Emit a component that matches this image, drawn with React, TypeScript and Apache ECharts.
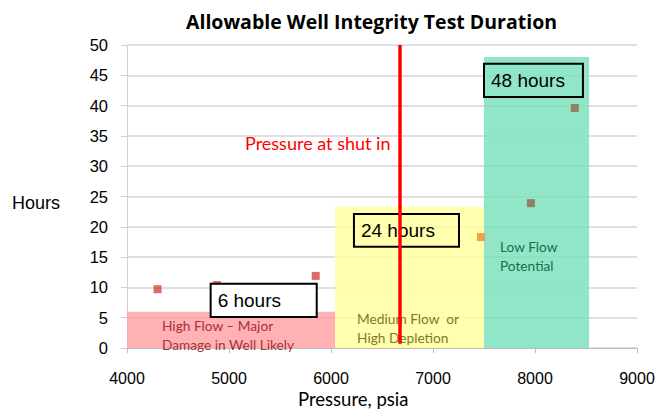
import React, { useEffect, useRef } from "react";
import * as echarts from "echarts";

const xTicks = [4000, 5000, 6000, 7000, 8000, 9000];
const yTicks = [0, 50, 5];

const highFlowPoints = [
  [4300, 9.7],
  [4880, 10.4],
  [5850, 11.9],
];
const mediumPoints = [[7470, 18.3]];
const lowPoints = [
  [7960, 23.9],
  [8390, 39.6],
];

// zones: [xFrom, xTo, yTo, label]
const zoneRed = [4000, 6040, 6, "High Flow – Major\nDamage in Well Likely"];
const zoneYellow = [6040, 7500, 23.3, "Medium Flow  or\nHigh Depletion"];
const zoneGreen = [7500, 8530, 48, "Low Flow\nPotential"];

// boxes: [xFrom, xTo, yFrom, yTo, label]
const box6 = [4820, 5860, 5.1, 10.6, "6 hours"];
const box24 = [6225, 7255, 16.7, 22.1, "24 hours"];
const box48 = [7500, 8470, 41.4, 46.9, "48 hours"];

const shutInPressure = 6670;
const shutInRange = [0.7, 50];

export default function App() {
  const ref = useRef<HTMLDivElement>(null);
  useEffect(() => {
    const chart = echarts.init(ref.current!, null, { renderer: "svg" });
    const zoneLabel = (color: string, pos: number[]) => ({
      show: true,
      position: pos,
      align: "left",
      verticalAlign: "top",
      color,
      fontFamily: "Lato",
      fontSize: 13.7,
      lineHeight: 19,
    });
    const zone = (z: any[], fill: string, textColor: string, pos: number[]) => [
      {
        xAxis: z[0],
        yAxis: 0,
        itemStyle: { color: fill, opacity: 0.85 },
        label: zoneLabel(textColor, pos),
        name: z[3],
      },
      { xAxis: z[1], yAxis: z[2] },
    ];
    const box = (b: any[], fill: string) => [
      {
        xAxis: b[0],
        yAxis: b[2],
        name: b[4],
        itemStyle: { color: fill, borderColor: "#000", borderWidth: 2 },
        label: {
          show: true,
          position: "insideLeft",
          distance: 8,
          color: "#000",
          fontFamily: "Liberation Sans",
          fontSize: 19,
        },
      },
      { xAxis: b[1], yAxis: b[3] },
    ];
    chart.setOption({
      animation: false,
      backgroundColor: "#fff",
      title: {
        text: "Allowable Well Integrity Test Duration",
        left: 181,
        top: 6,
        textStyle: { fontFamily: "Open Sans", fontWeight: "bold", fontSize: 19.5, color: "#000" },
      },
      grid: { left: 127, right: 22, top: 45, bottom: 63 },
      xAxis: {
        type: "value",
        min: xTicks[0],
        max: xTicks[xTicks.length - 1],
        interval: xTicks[1] - xTicks[0],
        axisLine: { lineStyle: { color: "#bfbfbf", width: 1 } },
        axisTick: { show: true, length: 5, lineStyle: { color: "#bfbfbf" } },
        axisLabel: {
          fontFamily: "Liberation Sans",
          fontSize: 16,
          color: "#000",
          margin: 22,
          formatter: (v: number) => String(v),
        },
        splitLine: { show: false },
      },
      yAxis: {
        type: "value",
        min: yTicks[0],
        max: yTicks[1],
        interval: yTicks[2],
        axisLine: { show: true, lineStyle: { color: "#d0d0d0", width: 1 } },
        axisTick: { show: true, length: 6, lineStyle: { color: "#d0d0d0" } },
        axisLabel: { fontFamily: "Liberation Sans", fontSize: 16.5, color: "#000", margin: 19 },
        splitLine: { show: true, lineStyle: { color: "#d4d4d4", width: 1.5 } },
      },
      graphic: [
        {
          type: "text",
          left: 12,
          top: 194,
          style: { text: "Hours", font: "18px 'Liberation Sans'", fill: "#000" },
        },
        {
          type: "text",
          left: 245,
          top: 134,
          style: { text: "Pressure at shut in", font: "18px Lato", fill: "#ff0000" },
        },
        {
          type: "text",
          left: 298,
          top: 389,
          style: { text: "Pressure, psia", font: "18.5px Lato", fill: "#000" },
        },
      ],
      series: [
        {
          type: "scatter",
          name: "zones",
          data: [],
          z: 1,
          markArea: {
            silent: true,
            z: 1,
            data: [
              zone(zoneRed, "#ffa3a6", "#a8323a", [35, 4]),
              zone(zoneYellow, "#ffffa0", "#7c7a2a", [22, 102]),
              zone(zoneGreen, "#7ee2bd", "#1a6e4c", [16, 180]),
            ],
          },
        },
        {
          type: "scatter",
          name: "High flow",
          data: highFlowPoints,
          symbol: "rect",
          symbolSize: 8,
          z: 3,
          itemStyle: { color: "#d9453f" },
        },
        {
          type: "scatter",
          name: "Medium flow",
          data: mediumPoints,
          symbol: "rect",
          symbolSize: 8,
          z: 3,
          itemStyle: { color: "#ef8a2e" },
        },
        {
          type: "scatter",
          name: "Low flow",
          data: lowPoints,
          symbol: "rect",
          symbolSize: 8,
          z: 3,
          itemStyle: { color: "#8c6a4a" },
        },
        {
          type: "scatter",
          name: "boxes",
          data: [],
          z: 4,
          markArea: {
            silent: true,
            z: 4,
            data: [box(box6, "#ffffff"), box(box24, "rgba(0,0,0,0)"), box(box48, "rgba(0,0,0,0)")],
          },
        },
        {
          type: "scatter",
          name: "shut in",
          data: [],
          z: 6,
          markLine: {
            silent: true,
            z: 6,
            symbol: ["none", "none"],
            label: { show: false },
            lineStyle: { color: "#ff0000", width: 3.5, type: "solid" },
            data: [
              [
                { coord: [shutInPressure, shutInRange[0]] },
                { coord: [shutInPressure, shutInRange[1]] },
              ],
            ],
          },
        },
      ],
    });
    return () => chart.dispose();
  }, []);
  return <div ref={ref} style={{ width: 659, height: 411, position: "absolute", left: 0, top: 0 }} />;
}
